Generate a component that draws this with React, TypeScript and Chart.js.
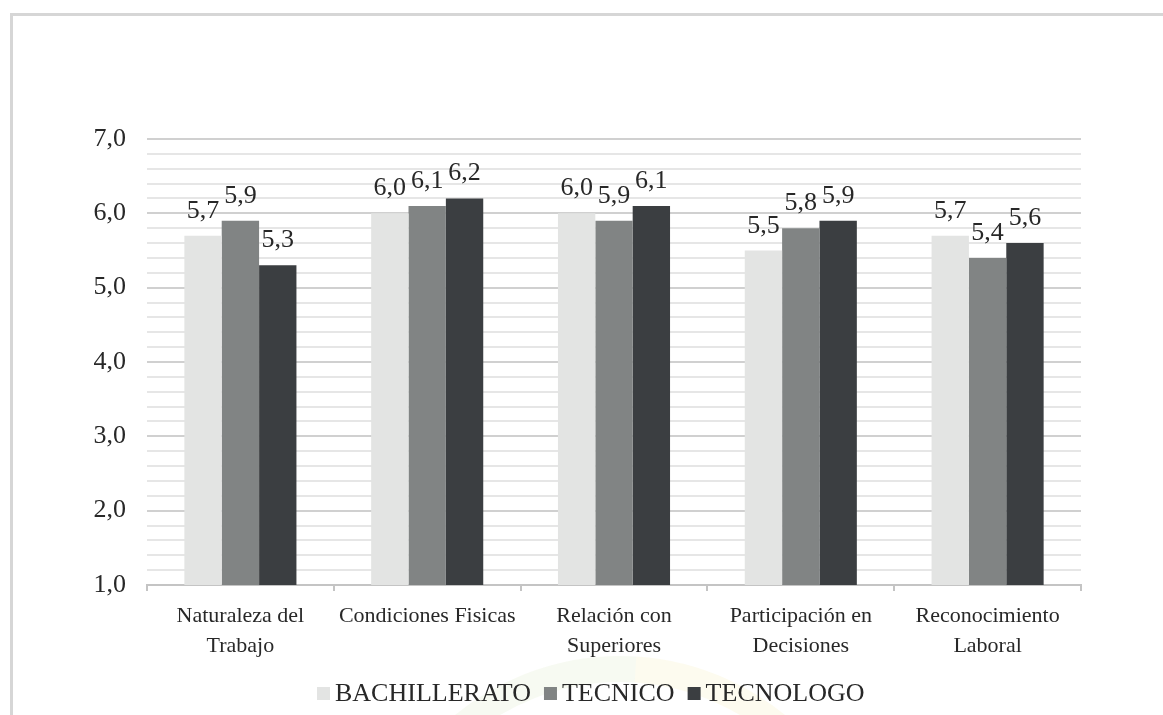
import React, { useEffect, useRef } from "react";
import { Chart, registerables } from "chart.js";

Chart.register(...registerables);

// Dimensions of job satisfaction, grouped by education level
const categories: (string | string[])[] = [
  ["Naturaleza del", "Trabajo"],
  "Condiciones Fisicas",
  ["Relación con", "Superiores"],
  ["Participación en", "Decisiones"],
  ["Reconocimiento", "Laboral"],
];

const seriesNames = ["BACHILLERATO", "TECNICO", "TECNOLOGO"];
const bachillerato = [5.7, 6.0, 6.0, 5.5, 5.7];
const tecnico = [5.9, 6.1, 5.9, 5.8, 5.4];
const tecnologo = [5.3, 6.2, 6.1, 5.9, 5.6];
const seriesColors = ["#e3e4e3", "#818484", "#3b3e41"];

const yMin = 1;
const yMax = 7;
const yStep = 0.2;

const FONT = "'Liberation Serif', 'Times New Roman', serif";
const TEXT = "#282828";

const fmt = (v: number) => v.toFixed(1).replace(".", ",");
const isMajor = (v: number) => Math.abs(v - Math.round(v)) < 1e-6;

// Page frame lines and faint background emblem
const backdrop = {
  id: "backdrop",
  beforeDraw(chart: any) {
    const { ctx, width, height } = chart;
    ctx.save();
    ctx.fillStyle = "#ffffff";
    ctx.fillRect(0, 0, width, height);

    ctx.lineWidth = 26;
    ctx.strokeStyle = "rgba(190, 215, 150, 0.12)";
    ctx.beginPath();
    ctx.arc(620, 916, 247, Math.PI, Math.PI * 1.52);
    ctx.stroke();
    ctx.strokeStyle = "rgba(240, 222, 120, 0.12)";
    ctx.beginPath();
    ctx.arc(620, 916, 247, Math.PI * 1.52, Math.PI * 2);
    ctx.stroke();

    ctx.fillStyle = "#d6d6d6";
    ctx.fillRect(10, 13, 3, height - 13);
    ctx.fillRect(10, 13, width - 10, 3);
    ctx.restore();
  },
};

// Value labels above every bar
const valueLabels = {
  id: "valueLabels",
  afterDatasetsDraw(chart: any) {
    const { ctx } = chart;
    ctx.save();
    ctx.font = `26px ${FONT}`;
    ctx.fillStyle = TEXT;
    ctx.textAlign = "center";
    ctx.textBaseline = "alphabetic";
    chart.data.datasets.forEach((ds: any, i: number) => {
      const meta = chart.getDatasetMeta(i);
      meta.data.forEach((bar: any, j: number) => {
        ctx.fillText(fmt(ds.data[j]), bar.x, bar.y - 18);
      });
    });
    ctx.restore();
  },
};

// Legend row below the category labels
const legendRow = {
  id: "legendRow",
  afterDraw(chart: any) {
    const { ctx } = chart;
    ctx.save();
    ctx.font = `26px ${FONT}`;
    ctx.textBaseline = "alphabetic";
    ctx.textAlign = "left";
    const baseline = 701;
    const box = 13;
    let x = 317;
    chart.data.datasets.forEach((ds: any) => {
      ctx.fillStyle = ds.backgroundColor;
      ctx.fillRect(x, baseline - box - 1, box, box);
      x += box + 5;
      ctx.fillStyle = TEXT;
      ctx.fillText(ds.label, x, baseline);
      x += ctx.measureText(ds.label).width + 13;
    });
    ctx.restore();
  },
};

export default function App() {
  const canvasRef = useRef<HTMLCanvasElement | null>(null);

  useEffect(() => {
    if (!canvasRef.current) return;
    const series = [bachillerato, tecnico, tecnologo];
    const chart = new Chart(canvasRef.current, {
      type: "bar",
      data: {
        labels: categories,
        datasets: series.map((values, i) => ({
          label: seriesNames[i],
          data: values,
          backgroundColor: seriesColors[i],
          borderWidth: 0,
          categoryPercentage: 0.6,
          barPercentage: 1.0,
        })),
      },
      options: {
        responsive: false,
        animation: false,
        devicePixelRatio: 1,
        layout: { padding: { top: 139, right: 82, left: 0, bottom: 0 } },
        plugins: {
          legend: { display: false },
          tooltip: { enabled: false },
        },
        scales: {
          x: {
            afterFit: (s: any) => {
              s.height = 130;
            },
            border: { color: "#c4c4c4", width: 2 },
            grid: {
              offset: true,
              drawOnChartArea: false,
              drawTicks: true,
              tickLength: 6,
              color: "#c4c4c4",
              lineWidth: 2,
            },
            ticks: {
              padding: 10,
              autoSkip: false,
              maxRotation: 0,
              color: TEXT,
              font: { family: FONT, size: 22, lineHeight: 1.36 },
            },
          },
          y: {
            min: yMin,
            max: yMax,
            afterFit: (s: any) => {
              s.width = 147;
            },
            border: { display: false },
            grid: {
              drawTicks: false,
              color: (c: any) =>
                c.tick && isMajor(c.tick.value) ? "#d0d0d0" : "#e6e6e6",
              lineWidth: 2,
            },
            ticks: {
              stepSize: yStep,
              autoSkip: false,
              padding: 21,
              color: TEXT,
              font: { family: FONT, size: 26 },
              callback: (v: any) => (isMajor(Number(v)) ? fmt(Number(v)) : ""),
            },
          },
        },
      },
      plugins: [backdrop, valueLabels, legendRow],
    });
    return () => chart.destroy();
  }, []);

  return (
    <div style={{ position: "absolute", left: 0, top: 0, width: 1163, height: 715 }}>
      <canvas ref={canvasRef} width={1163} height={715} style={{ display: "block" }} />
    </div>
  );
}
